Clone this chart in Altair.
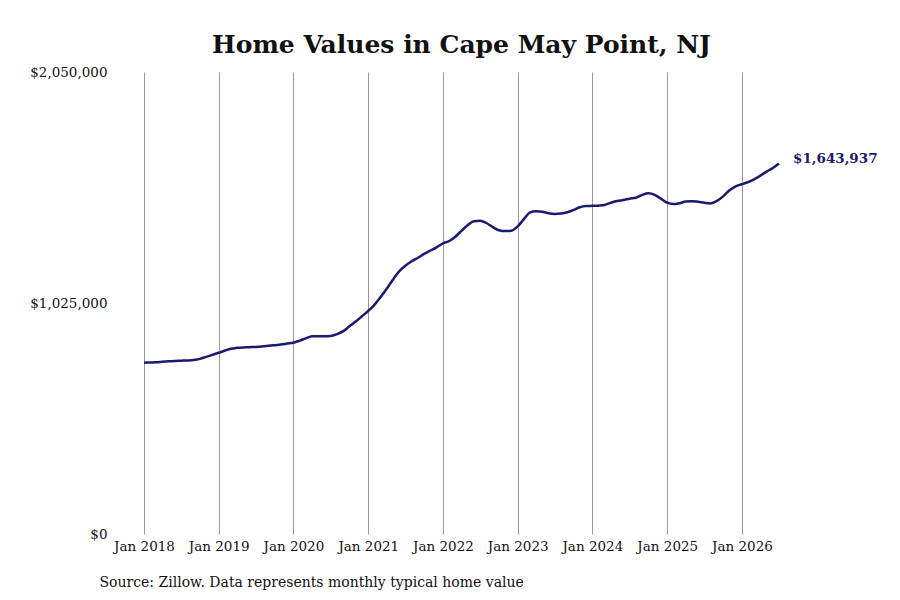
import altair as alt
import pandas as pd

start_month = "2018-01-01"
values_k = [
    # 2018
    760, 761, 762, 764, 766, 768, 769, 770, 772, 777, 786, 795,
    # 2019
    804, 814, 822, 826, 828, 829, 830, 832, 835, 838, 841, 845,
    # 2020
    849, 858, 868, 877, 878, 878, 879, 887, 900, 922, 943, 966,
    # 2021
    990, 1018, 1050, 1088, 1128, 1165, 1190, 1210, 1226, 1243, 1258, 1272,
    # 2022
    1290, 1300, 1318, 1345, 1370, 1388, 1390, 1380, 1362, 1348, 1344, 1346,
    # 2023
    1365, 1398, 1426, 1432, 1430, 1423, 1420, 1422, 1428, 1438, 1450, 1455,
    # 2024
    1456, 1457, 1460, 1470, 1478, 1482, 1488, 1492, 1505, 1512, 1505, 1488,
    # 2025
    1470, 1464, 1468, 1475, 1477, 1474, 1470, 1467, 1478, 1498, 1525, 1543,
    # 2026
    1552, 1562, 1574, 1590, 1608, 1624, 1643.937,
]
y_ticks = [0, 1025000, 2050000]
last_label = "$1,643,937"
title_text = "Home Values in Cape May Point, NJ"
source_text = "Source: Zillow. Data represents monthly typical home value"

dates = pd.date_range(start_month, periods=len(values_k), freq="MS")
df = pd.DataFrame({"date": dates, "value": [v * 1000 for v in values_k]})
last = df.tail(1).assign(label=last_label)

FONT = "DejaVu Serif"
NAVY = "#1a1a70"

x = alt.X(
    "date:T",
    scale=alt.Scale(domain=[df["date"].min().isoformat(), df["date"].max().isoformat()], nice=False),
    axis=alt.Axis(
        format="%b %Y",
        values=[f"{y}-01-01" for y in range(2018, 2027)],
        grid=True,
        gridColor="#999999",
        gridWidth=1,
        domain=False,
        ticks=False,
        labelOverlap=False,
        labelFlush=False,
        labelPadding=5,
        labelFont=FONT,
        labelFontSize=13.5,
        labelColor="#111111",
        title=source_text,
        titleFont=FONT,
        titleFontSize=14,
        titleFontWeight="normal",
        titleColor="#111111",
        titleAnchor="start",
        titleAlign="left",
        titleBaseline="alphabetic",
        titleX=-45,
        titleY=52,
    ),
)
y = alt.Y(
    "value:Q",
    scale=alt.Scale(domain=[0, 2050000], nice=False, zero=True),
    axis=alt.Axis(
        values=y_ticks,
        format="$,.0f",
        grid=False,
        domain=False,
        ticks=False,
        labelPadding=37,
        labelFont=FONT,
        labelFontSize=13.5,
        labelColor="#111111",
        title=None,
    ),
)

line = alt.Chart(df).mark_line(color=NAVY, strokeWidth=2.5, interpolate="monotone").encode(x=x, y=y)
label = alt.Chart(last).mark_text(
    align="left", baseline="middle", dx=14, dy=-5,
    font=FONT, fontSize=13.5, fontWeight="bold", color=NAVY,
).encode(x="date:T", y="value:Q", text="label:N")

chart = (line + label).properties(
    width=635,
    height=462,
    padding={"left": 136, "top": 64, "right": 113, "bottom": 58},
    autosize=alt.AutoSizeParams(type="none"),
    background="white",
    title=alt.TitleParams(
        title_text, font=FONT, fontSize=25, fontWeight="bold", color="#111111",
        anchor="middle", frame="group", offset=7,
    ),
).configure_view(stroke=None)

chart.save("out.html", embed_options={"renderer": "svg", "actions": False})
